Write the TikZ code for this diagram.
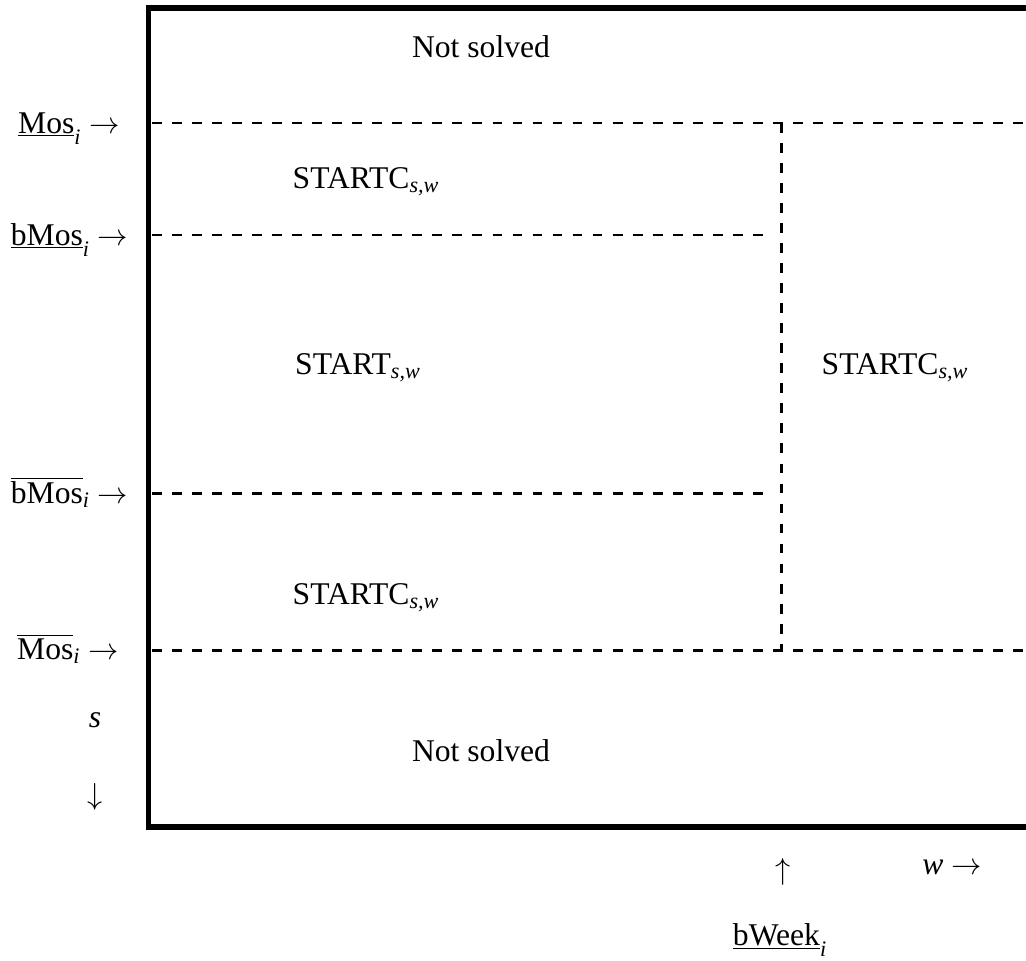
\documentclass[tikz,border=0pt]{standalone}
\usepackage{fontspec}
\setmainfont{Liberation Serif}
\usetikzlibrary{calc}
\newcommand{\sbi}[1]{\textsubscript{\itshape #1}}
\newcommand{\sbl}[1]{\raisebox{-0.45ex}{\sbi{#1}}}
\newcommand{\ovl}[1]{$\overline{\hbox{#1}\vphantom{l}}$}

\begin{document}
\begin{tikzpicture}[x=0.02cm, y=-0.02cm,
  every node/.style={font=\fontsize{18}{22}\selectfont, inner sep=0pt, anchor=base},
  frame/.style={line width=3.4pt},
  cut/.style={line width=1.7pt, dash pattern=on 5.6pt off 5.8pt}]

\clip (0,0) rectangle (1026,960);

% frame
\draw[frame] (1040,8) -- (148.5,8) -- (148.5,827) -- (1040,827);

% dashed boundaries
\draw[cut] (152,123) -- (1040,123);
\draw[cut] (152,235) -- (772,235);
\draw[cut] (152,493) -- (772,493);
\draw[cut] (152,650) -- (1040,650);
\draw[cut] (781.5,123) -- (781.5,650);

% regions
\node (ns1) at (481,57) {Not solved};
\node (sc1) at (366,188) {STARTC\sbi{s,w}};
\node (st)  at (358,374) {START\sbi{s,w}};
\node (sc2) at (895,374) {STARTC\sbi{s,w}};
\node (sc3) at (366,604) {STARTC\sbi{s,w}};
\node (ns2) at (481,761) {Not solved};

% left labels
\node (lmos)  at (69,133) {\underline{Mos}\sbl{i} $\rightarrow$};
\node (lbmos) at (69.5,245) {\underline{bMos}\sbl{i} $\rightarrow$};
\node (ubmos) at (69.5,503) {\ovl{bMos}\sbi{i} $\rightarrow$};
\node (umos)  at (68,659) {\ovl{Mos}\sbi{i} $\rightarrow$};
\node (ls)    at (95,727) {\textit{s}};
\node (ldown) at (95,804) {$\downarrow$};

% bottom labels
\node (lup)   at (783,879) {$\uparrow$};
\node (lw)    at (952,874) {\textit{w} $\rightarrow$};
\node (lweek) at (780,945) {\underline{bWeek}\sbl{i}};

\end{tikzpicture}
\end{document}
